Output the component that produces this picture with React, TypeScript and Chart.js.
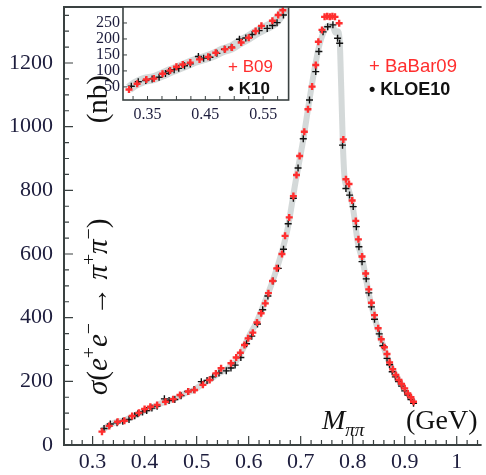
import React, { useEffect, useRef } from "react";
import { Chart, registerables } from "chart.js";

Chart.register(...registerables);

// e+e- -> pi+pi- cross section (nb) versus M_pipi (GeV)
const babarMass = [
  0.318, 0.332, 0.348, 0.361, 0.376, 0.389, 0.4, 0.411, 0.424, 0.44,
  0.455, 0.468, 0.484, 0.496, 0.512, 0.525, 0.537, 0.547, 0.566, 0.576,
  0.584, 0.592, 0.599, 0.608, 0.616, 0.624, 0.632, 0.638, 0.646, 0.654,
  0.664, 0.67, 0.678, 0.686, 0.692, 0.698, 0.707, 0.714, 0.722, 0.729,
  0.734, 0.741, 0.746, 0.751, 0.756, 0.761, 0.766, 0.774, 0.782, 0.787,
  0.793, 0.799, 0.806, 0.811, 0.818, 0.825, 0.831, 0.836, 0.842, 0.849,
  0.855, 0.861, 0.866, 0.871, 0.877, 0.883, 0.889, 0.894, 0.9, 0.906,
  0.912, 0.917,
];
const babarSigma = [
  42, 60, 73, 76, 91, 101, 113, 120, 126, 136,
  144, 157, 168, 173, 189, 204, 225, 241, 257, 275,
  290, 314, 335, 353, 385, 414, 445, 477, 515, 555,
  600, 657, 715, 782, 848, 908, 984, 1055, 1126, 1194,
  1267, 1304, 1345, 1347, 1345, 1347, 1345, 1325, 960, 835,
  820, 768, 704, 646, 592, 539, 489, 447, 408, 367,
  332, 307, 286, 259, 238, 220, 204, 192, 178, 162,
  150, 136,
];

const kloeMass = [
  0.322, 0.334, 0.347, 0.358, 0.37, 0.381, 0.387, 0.396, 0.404, 0.414,
  0.424, 0.438, 0.447, 0.458, 0.47, 0.483, 0.495, 0.509, 0.52, 0.531,
  0.543, 0.557, 0.566, 0.574, 0.585, 0.596, 0.606, 0.617, 0.627, 0.637,
  0.647, 0.657, 0.667, 0.676, 0.686, 0.695, 0.705, 0.717, 0.729, 0.735,
  0.743, 0.752, 0.762, 0.771, 0.775, 0.7805, 0.787, 0.794, 0.801, 0.807,
  0.812, 0.818, 0.826, 0.831, 0.836, 0.842, 0.851, 0.858, 0.866, 0.871,
  0.876, 0.882, 0.888, 0.894, 0.9, 0.906, 0.912, 0.917,
];
const kloeSigma = [
  52, 66, 70, 75, 80, 92, 98, 104, 108, 116,
  122, 145, 140, 143, 155, 168, 174, 199, 203, 214,
  226, 233, 242, 251, 275, 318, 342, 380, 425, 468,
  515, 555, 615, 695, 775, 870, 962, 1084, 1173, 1236,
  1298, 1314, 1320, 1278, 1262, 942, 806, 785, 749, 686,
  623, 576, 522, 478, 434, 395, 349, 312, 272, 252,
  230, 214, 199, 185, 170, 157, 143, 131,
];

// combined fit band drawn under the points
const bandMass = [
  0.318, 0.33, 0.345, 0.36, 0.375, 0.39, 0.405, 0.42, 0.435, 0.45,
  0.465, 0.48, 0.495, 0.51, 0.525, 0.54, 0.555, 0.57, 0.585, 0.6,
  0.615, 0.63, 0.645, 0.66, 0.675, 0.69, 0.705, 0.715, 0.725, 0.735,
  0.745, 0.755, 0.762, 0.767, 0.771, 0.775, 0.778, 0.781, 0.785, 0.79,
  0.8, 0.81, 0.82, 0.83, 0.84, 0.85, 0.86, 0.87, 0.88, 0.89,
  0.9, 0.91, 0.918,
];
const bandSigma = [
  45, 60, 72, 77, 88, 100, 111, 122, 133, 141,
  151, 164, 173, 190, 205, 222, 236, 252, 288, 340,
  385, 445, 510, 585, 680, 825, 960, 1065, 1165, 1250,
  1300, 1318, 1315, 1295, 1300, 1270, 1120, 950, 830, 810,
  750, 635, 572, 483, 412, 355, 305, 260, 228, 201,
  174, 152, 134,
];

const xTickValues = [0.3, 0.4, 0.5, 0.6, 0.7, 0.8, 0.9, 1.0];
const xTickLabels = ["0.3", "0.4", "0.5", "0.6", "0.7", "0.8", "0.9", "1"];
const yTickValues = [0, 200, 400, 600, 800, 1000, 1200];
const yTickLabels = ["0", "200", "400", "600", "800", "1000", "1200"];

const insetXTickValues = [0.35, 0.45, 0.55];
const insetXTickLabels = ["0.35", "0.45", "0.55"];
const insetYTickValues = [50, 100, 150, 200, 250];
const insetYTickLabels = ["50", "100", "150", "200", "250"];

const SERIF = "'Liberation Serif', 'DejaVu Serif', serif";
const SANS = "'Liberation Sans', 'DejaVu Sans', sans-serif";
const INK = "#1d1d3d";
const AXIS = "#3a4141";
const RED = "#ff2e2e";
const BAND = "rgba(170,180,180,0.5)";

const toPoints = (xs: number[], ys: number[]) => xs.map((x, i) => ({ x, y: ys[i] }));

const labelFor = (values: number[], labels: string[]) => (v: number | string) => {
  const i = values.findIndex((t) => Math.abs(t - Number(v)) < 1e-6);
  return i >= 0 ? labels[i] : "";
};

// keep the plot area exactly where the layout padding puts it
const noScalePadding = (s: any) => {
  s.paddingTop = 0;
  s.paddingBottom = 0;
  s.paddingLeft = 0;
  s.paddingRight = 0;
};

type Run = { t: string; italic?: boolean; sup?: boolean; sub?: boolean };

function runsWidth(ctx: CanvasRenderingContext2D, runs: Run[], size: number) {
  let w = 0;
  for (const r of runs) {
    const s = r.sup || r.sub ? size * 0.68 : size;
    ctx.font = `${r.italic ? "italic " : ""}${s}px ${SERIF}`;
    w += ctx.measureText(r.t).width;
  }
  return w;
}

function drawRuns(ctx: CanvasRenderingContext2D, runs: Run[], x: number, y: number, size: number) {
  let cx = x;
  for (const r of runs) {
    const s = r.sup || r.sub ? size * 0.68 : size;
    ctx.font = `${r.italic ? "italic " : ""}${s}px ${SERIF}`;
    const dy = r.sup ? -size * 0.42 : r.sub ? size * 0.25 : 0;
    ctx.fillText(r.t, cx, y + dy);
    cx += ctx.measureText(r.t).width;
  }
}

const yTitleRuns: Run[] = [
  { t: "σ", italic: true },
  { t: "(" },
  { t: "e", italic: true },
  { t: "+", sup: true },
  { t: "e", italic: true },
  { t: "−", sup: true },
  { t: " → " },
  { t: "π", italic: true },
  { t: "+", sup: true },
  { t: "π", italic: true },
  { t: "−", sup: true },
  { t: ")" },
];
const yUnitRuns: Run[] = [{ t: "(nb)" }];

const mainDecor = {
  id: "mainDecor",
  afterDraw(chart: any) {
    const { ctx, chartArea: a, scales } = chart;
    const x = scales.x;
    const y = scales.y;
    ctx.save();

    // frame
    ctx.strokeStyle = AXIS;
    ctx.lineWidth = 2;
    ctx.beginPath();
    ctx.moveTo(a.right + 2, a.top);
    ctx.lineTo(a.left, a.top);
    ctx.lineTo(a.left, a.bottom);
    ctx.lineTo(a.right + 2, a.bottom);
    ctx.stroke();

    // inward ticks
    ctx.lineWidth = 1.2;
    ctx.beginPath();
    for (let i = 12; i <= 52; i++) {
      const px = x.getPixelForValue(i * 0.02);
      if (px <= a.left + 1 || px > a.right) continue;
      const len = i % 5 === 0 ? 9 : 5;
      ctx.moveTo(px, a.bottom);
      ctx.lineTo(px, a.bottom - len);
    }
    for (let i = 1; i <= 27; i++) {
      const py = y.getPixelForValue(i * 50);
      if (py < a.top + 1) continue;
      const len = i % 4 === 0 ? 9 : 5;
      ctx.moveTo(a.left, py);
      ctx.lineTo(a.left + len, py);
    }
    ctx.stroke();

    // y title, reading upward
    ctx.fillStyle = "#111";
    ctx.textBaseline = "alphabetic";
    ctx.textAlign = "left";
    ctx.save();
    ctx.translate(107, 0);
    ctx.rotate(-Math.PI / 2);
    drawRuns(ctx, yTitleRuns, -395, 0, 29);
    const wu = runsWidth(ctx, yUnitRuns, 29);
    drawRuns(ctx, yUnitRuns, -75 - wu, 0, 29);
    ctx.restore();

    // x title
    drawRuns(ctx, [{ t: "M", italic: true }, { t: "ππ", italic: true, sub: true }], 322, 429, 28);
    drawRuns(ctx, [{ t: "(GeV)" }], 406, 429, 28);

    // legend
    ctx.textBaseline = "middle";
    ctx.font = `18.5px ${SANS}`;
    ctx.fillStyle = RED;
    ctx.fillText("+ BaBar09", 369, 67);
    ctx.font = `bold 18px ${SANS}`;
    ctx.fillStyle = "#111";
    ctx.fillText("• KLOE10", 369, 90);

    ctx.restore();
  },
};

const insetDecor = {
  id: "insetDecor",
  beforeDraw(chart: any) {
    const { ctx, chartArea: a } = chart;
    ctx.save();
    ctx.fillStyle = "#fff";
    ctx.fillRect(a.left, a.top, a.right - a.left, a.bottom - a.top);
    ctx.restore();
  },
  afterDraw(chart: any) {
    const { ctx, chartArea: a, scales } = chart;
    const x = scales.x;
    const y = scales.y;
    ctx.save();
    ctx.strokeStyle = AXIS;
    ctx.lineWidth = 1.6;
    ctx.strokeRect(a.left, a.top, a.right - a.left, a.bottom - a.top);

    ctx.lineWidth = 1;
    ctx.beginPath();
    for (let i = 0; i <= 40; i++) {
      const v = 0.3 + i * 0.025;
      const px = x.getPixelForValue(v);
      if (px <= a.left + 1 || px >= a.right - 1) continue;
      ctx.moveTo(px, a.bottom);
      ctx.lineTo(px, a.bottom - 4);
    }
    for (let i = 1; i <= 5; i++) {
      const py = y.getPixelForValue(i * 50);
      ctx.moveTo(a.left, py);
      ctx.lineTo(a.left + 4, py);
    }
    ctx.stroke();

    ctx.textBaseline = "middle";
    ctx.textAlign = "left";
    ctx.font = `17px ${SANS}`;
    ctx.fillStyle = RED;
    ctx.fillText("+ B09", 148, 67);
    ctx.font = `bold 17px ${SANS}`;
    ctx.fillStyle = "#111";
    ctx.fillText("• K10", 148, 89);
    ctx.restore();
  },
};

function datasets(inset: boolean) {
  return [
    {
      label: "BaBar09",
      data: toPoints(babarMass, babarSigma),
      showLine: false,
      pointStyle: "cross",
      pointRadius: 3.5,
      borderColor: RED,
      backgroundColor: RED,
      pointBorderWidth: 2.4,
    },
    {
      label: "KLOE10",
      data: toPoints(kloeMass, kloeSigma),
      showLine: false,
      pointStyle: "cross",
      pointRadius: 3.5,
      borderColor: "#111",
      backgroundColor: "#111",
      pointBorderWidth: 1.4,
    },
    {
      label: "band",
      data: toPoints(bandMass, bandSigma),
      showLine: true,
      pointRadius: 0,
      borderColor: BAND,
      borderWidth: inset ? 10 : 6,
      cubicInterpolationMode: "monotone",
      fill: false,
    },
  ];
}

function mainConfig(): any {
  return {
    type: "scatter",
    data: { datasets: datasets(false) },
    options: {
      responsive: false,
      animation: false,
      devicePixelRatio: 1,
      layout: { padding: { top: 7, right: 0, left: 0, bottom: 0 } },
      plugins: { legend: { display: false }, tooltip: { enabled: false } },
      scales: {
        x: {
          type: "linear",
          min: 0.245,
          max: 1.044,
          afterBuildTicks: (s: any) => {
            s.ticks = xTickValues.map((value) => ({ value }));
          },
          afterFit: (s: any) => {
            s.height = 30;
            noScalePadding(s);
          },
          grid: { display: false, drawTicks: false },
          border: { display: false },
          ticks: {
            callback: labelFor(xTickValues, xTickLabels),
            font: { family: SERIF, size: 22 },
            color: INK,
            padding: 4,
            maxRotation: 0,
            autoSkip: false,
          },
        },
        y: {
          type: "linear",
          min: 0,
          max: 1376,
          afterBuildTicks: (s: any) => {
            s.ticks = yTickValues.map((value) => ({ value }));
          },
          afterFit: (s: any) => {
            s.width = 64;
            noScalePadding(s);
          },
          grid: { display: false, drawTicks: false },
          border: { display: false },
          ticks: {
            callback: labelFor(yTickValues, yTickLabels),
            font: { family: SERIF, size: 22 },
            color: INK,
            padding: 11,
            autoSkip: false,
          },
        },
      },
    },
    plugins: [mainDecor],
  };
}

function insetConfig(): any {
  return {
    type: "scatter",
    data: { datasets: datasets(true) },
    options: {
      responsive: false,
      animation: false,
      devicePixelRatio: 1,
      layout: { padding: { top: 7, right: 3, left: 0, bottom: 0 } },
      plugins: { legend: { display: false }, tooltip: { enabled: false } },
      scales: {
        x: {
          type: "linear",
          min: 0.3076,
          max: 0.594,
          afterBuildTicks: (s: any) => {
            s.ticks = insetXTickValues.map((value) => ({ value }));
          },
          afterFit: (s: any) => {
            s.height = 25;
            noScalePadding(s);
          },
          grid: { display: false, drawTicks: false },
          border: { display: false },
          ticks: {
            callback: labelFor(insetXTickValues, insetXTickLabels),
            font: { family: SERIF, size: 16 },
            color: INK,
            padding: 5,
            maxRotation: 0,
            autoSkip: false,
          },
        },
        y: {
          type: "linear",
          min: 9,
          max: 300,
          afterBuildTicks: (s: any) => {
            s.ticks = insetYTickValues.map((value) => ({ value }));
          },
          afterFit: (s: any) => {
            s.width = 43;
            noScalePadding(s);
          },
          grid: { display: false, drawTicks: false },
          border: { display: false },
          ticks: {
            callback: labelFor(insetYTickValues, insetYTickLabels),
            font: { family: SERIF, size: 16 },
            color: INK,
            padding: 3,
            autoSkip: false,
          },
        },
      },
    },
    plugins: [insetDecor],
  };
}

export default function App() {
  const mainRef = useRef<HTMLCanvasElement>(null);
  const insetRef = useRef<HTMLCanvasElement>(null);

  useEffect(() => {
    document.body.style.margin = "0";
    const main = new Chart(mainRef.current as HTMLCanvasElement, mainConfig());
    const inset = new Chart(insetRef.current as HTMLCanvasElement, insetConfig());
    return () => {
      main.destroy();
      inset.destroy();
    };
  }, []);

  return (
    <div style={{ position: "relative", width: 486, height: 475, background: "#fff", overflow: "hidden" }}>
      <canvas
        ref={mainRef}
        width={486}
        height={475}
        style={{ position: "absolute", left: 0, top: 0 }}
      />
      <canvas
        ref={insetRef}
        width={215}
        height={125}
        style={{ position: "absolute", left: 80, top: 0 }}
      />
    </div>
  );
}
